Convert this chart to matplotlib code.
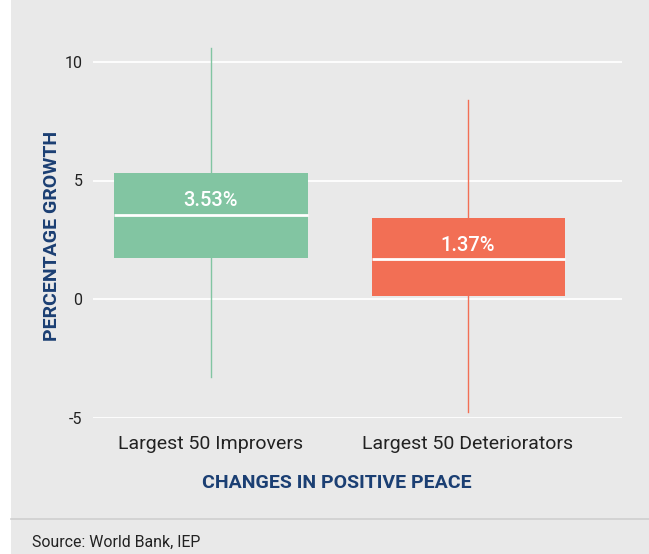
import matplotlib.pyplot as plt
from matplotlib.patches import Rectangle
from matplotlib.lines import Line2D

plt.rcParams['font.family'] = ['Roboto', 'DejaVu Sans']

categories = ["Largest 50 Improvers", "Largest 50 Deteriorators"]
whisker_low = [-3.29, -4.73]
q1 = [1.73, 0.13]
median = [3.54, 1.68]
q3 = [5.32, 3.42]
whisker_high = [10.59, 8.40]
labels = ["3.53%", "1.37%"]
colors = ["#82c5a2", "#f26f55"]

bg = "#e9e9e9"
navy = "#1b3f73"

fig = plt.figure(figsize=(6.49, 5.54), dpi=100, facecolor=bg)
# white strip at the left edge + separator above the source line
fig.patches.append(Rectangle((0, 0), 11 / 649, 1, transform=fig.transFigure,
                             facecolor="white", edgecolor="none", zorder=0))
fig.lines.append(Line2D([11 / 649, 1], [1 - 519 / 554] * 2, transform=fig.transFigure,
                        color="#cfcfcf", lw=1.2))

ax = fig.add_axes([93 / 649, 1 - 418 / 554, 529 / 649, 380 / 554])
ax.set_facecolor(bg)

stats = []
for i in range(len(categories)):
    stats.append(dict(whislo=whisker_low[i], q1=q1[i], med=median[i],
                      q3=q3[i], whishi=whisker_high[i], fliers=[]))

xs = list(range(len(categories)))
bp = ax.bxp(stats, positions=xs, widths=0.751, patch_artist=True,
            showcaps=False, showfliers=False)
for i, box in enumerate(bp["boxes"]):
    box.set_facecolor(colors[i])
    box.set_edgecolor("none")
    box.set_zorder(3)
for m in bp["medians"]:
    m.set_color("white")
    m.set_linewidth(2)
    m.set_zorder(4)
for j, w in enumerate(bp["whiskers"]):
    w.set_color(colors[j // 2])
    w.set_linewidth(1)
    w.set_zorder(2)

for i in xs:
    ax.text(i, median[i] + 0.6, labels[i], ha="center", va="center",
            color="white", fontsize=14.5, fontweight="medium", zorder=5)

ax.set_xlim(-0.459, 1.599)
ax.set_ylim(-5, 11)
ax.set_yticks([-5, 0, 5, 10])
ax.set_yticklabels(["-5", "0", "5", "10"])
ax.set_xticks(xs)
ax.set_xticklabels(categories, fontsize=14, color="#222222")
ax.tick_params(axis="y", length=0, pad=7.5, labelsize=11.5, labelcolor="#222222")
ax.tick_params(axis="x", length=0, pad=12)
ax.yaxis.grid(True, color="white", lw=1.3, zorder=0)
ax.set_axisbelow(True)
for s in ax.spines.values():
    s.set_visible(False)

ax.set_ylabel("PERCENTAGE GROWTH", color=navy, fontsize=14, fontweight="bold")
ax.yaxis.set_label_coords((52 - 93) / 529, (418 - 236) / 380)
ax.set_xlabel("CHANGES IN POSITIVE PEACE", color=navy, fontsize=14, fontweight="bold")
ax.xaxis.set_label_coords((337 - 93) / 529, -(483 - 418) / 380)
ax.xaxis.label.set_va("center")
ax.yaxis.label.set_va("center")

fig.text(32 / 649, 1 - 542 / 554, "Source: World Bank, IEP", fontsize=11.4,
         color="#222222", va="center", ha="left")

fig.savefig("out.png", dpi=100, facecolor=bg)
